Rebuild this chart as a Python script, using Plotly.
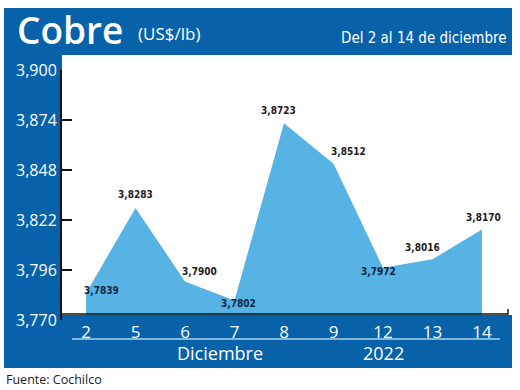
import plotly.graph_objects as go

# ---- data ----
days = ["2", "5", "6", "7", "8", "9", "12", "13", "14"]
prices = [3.7839, 3.8283, 3.7900, 3.7802, 3.8723, 3.8512, 3.7972, 3.8016, 3.8170]
y_ticks = [3.770, 3.796, 3.822, 3.848, 3.874, 3.900]
# label offsets in px (dx, dy up) and colour choice (inside fill = True)
label_dx = [15, 0, 14, 4, -6, 15, -5, -10, 1]
label_dy = [3, 13, 10, -3, 13, 12, -4, 12, 12]
label_inside = [True, False, False, True, False, False, True, False, False]

W, H = 520, 390
BLUE = "#0762a9"
FILL = "#56b3e3"

def px(x):
    return x / W

def py(y):
    return (H - y) / H

pos = list(range(len(days)))
y0, y1 = 3.770, 3.900
plot_top, plot_bot = 70, 320
scale = (plot_bot - plot_top) / (y1 - y0)
base_val = y0 + (plot_bot - 315) / scale  # fill baseline just above the band

fig = go.Figure()
fig.add_trace(go.Scatter(x=pos, y=[base_val] * len(pos), mode="lines",
                         line=dict(width=0, color=FILL), hoverinfo="skip",
                         showlegend=False))
fig.add_trace(go.Scatter(x=pos, y=prices, mode="lines", fill="tonexty",
                         fillcolor=FILL, line=dict(width=0, color=FILL),
                         showlegend=False))

ann = []
for i, (p, v) in enumerate(zip(pos, prices)):
    ann.append(dict(x=p, y=v, xref="x", yref="y",
                    text=f"{v:.4f}".replace(".", ","), showarrow=False,
                    xshift=label_dx[i], yshift=label_dy[i],
                    font=dict(family="DejaVu Sans Condensed", size=10, weight="bold",
                              color="#0c2746" if label_inside[i] else "#1b1b1b")))

white = "#ffffff"
ann += [
    dict(x=px(15), y=py(30), xref="paper", yref="paper", xanchor="left",
         yanchor="middle", text="Cobre", showarrow=False,
         font=dict(family="Open Sans", size=37, color=white, weight=600)),
    dict(x=px(136), y=py(33), xref="paper", yref="paper", xanchor="left",
         yanchor="middle", text="(US$/lb)", showarrow=False,
         font=dict(family="Open Sans", size=17, color=white)),
    dict(x=px(509), y=py(38), xref="paper", yref="paper", xanchor="right",
         yanchor="middle", text="Del 2 al 14 de diciembre", showarrow=False,
         font=dict(family="Liberation Sans Narrow, DejaVu Sans Condensed", size=15, color=white)),
    dict(x=px(220), y=py(353), xref="paper", yref="paper", xanchor="center",
         yanchor="middle", text="Diciembre", showarrow=False,
         font=dict(family="Open Sans", size=18, color=white)),
    dict(x=px(383), y=py(353), xref="paper", yref="paper", xanchor="center",
         yanchor="middle", text="2022", showarrow=False,
         font=dict(family="Open Sans", size=18, color=white)),
    dict(x=px(4), y=py(379), xref="paper", yref="paper", xanchor="left",
         yanchor="middle", text="Fuente: Cochilco", showarrow=False,
         font=dict(family="Open Sans", size=12.5, color="#222222")),
]

shapes = [
    dict(type="rect", xref="paper", yref="paper", x0=px(4), x1=px(512),
         y0=py(55), y1=py(8), fillcolor=BLUE, line=dict(width=0), layer="below"),
    dict(type="rect", xref="paper", yref="paper", x0=px(4), x1=px(62),
         y0=py(368), y1=py(8), fillcolor=BLUE, line=dict(width=0), layer="below"),
    dict(type="rect", xref="paper", yref="paper", x0=px(4), x1=px(512),
         y0=py(368), y1=py(315), fillcolor=BLUE, line=dict(width=0), layer="below"),
    dict(type="line", xref="paper", yref="paper", x0=px(72), x1=px(500),
         y0=py(339), y1=py(339), line=dict(color="#a9d6f2", width=1.5)),
    dict(type="line", xref="paper", yref="paper", x0=px(62), x1=px(508),
         y0=py(314), y1=py(314), line=dict(color="#111111", width=1.5)),
    dict(type="line", xref="paper", yref="paper", x0=px(508), x1=px(508),
         y0=py(314.5), y1=py(309), line=dict(color="#111111", width=1.5)),
]

first_px, step_px = 86, 49.5
x_left = (62 - first_px) / step_px
x_right = (len(pos) - 1) + (512 - (first_px + step_px * (len(pos) - 1))) / step_px

fig.update_layout(
    template="none",
    width=W, height=H, margin=dict(l=0, r=0, t=0, b=0, pad=0, autoexpand=False),
    paper_bgcolor="white", plot_bgcolor="rgba(0,0,0,0)",
    separators=",.",
    annotations=ann, shapes=shapes, showlegend=False,
    xaxis=dict(domain=[px(62), px(512)], range=[x_left, x_right],
               automargin=False,
               tickmode="array", tickvals=pos, ticktext=days,
               showgrid=False, zeroline=False, showline=False, ticks="",
               tickfont=dict(family="Open Sans", size=17, color=white)),
    yaxis=dict(domain=[py(plot_bot), py(plot_top)], range=[y0, y1],
               automargin=False,
               tickmode="array", tickvals=y_ticks, tickformat=".3f",
               showgrid=False, zeroline=False, showline=True,
               linecolor="#111111", linewidth=2,
               ticks="inside", ticklen=10, tickwidth=2, tickcolor="#111111",
               tickfont=dict(family="Open Sans", size=16, color=white)),
)
fig.write_html("out.html", config={"displayModeBar": False},
               post_script="document.body.style.margin='0';document.body.style.padding='0';")
